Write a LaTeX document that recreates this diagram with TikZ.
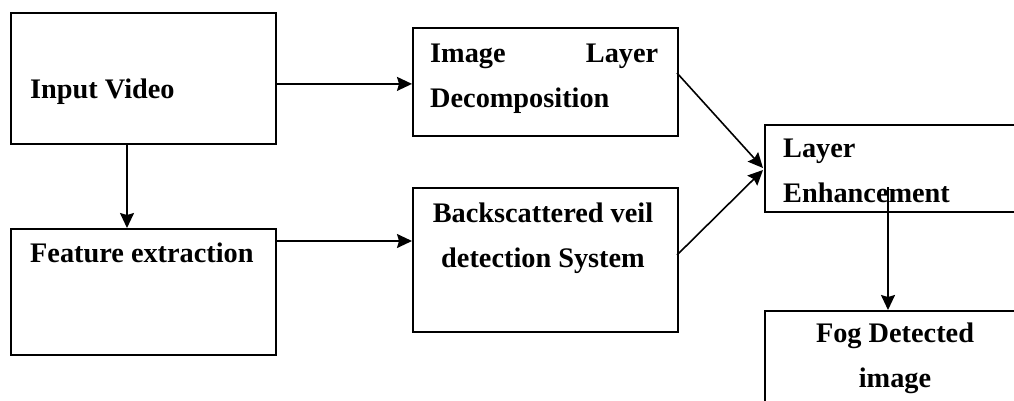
\documentclass[tikz,border=0pt]{standalone}
\usepackage{fontspec}
\setmainfont{Liberation Serif}
\usetikzlibrary{arrows.meta}
\tikzset{
  box/.style={draw, line width=1.8pt, rectangle, inner sep=0pt, anchor=north west},
  txt/.style={inner sep=0pt, font=\fontsize{28.3}{45}\selectfont\bfseries},
  conn/.style={line width=1.6pt, -{Stealth[length=15pt,width=14pt,inset=2pt]}}
}
\begin{document}
\begin{tikzpicture}[x=1pt,y=-1pt]
\useasboundingbox (0,0) rectangle (1014,400);
\clip (0,0) rectangle (1014,400);
% boxes
\node[box, minimum width=265pt, minimum height=131pt] (in) at (10,12) {};
\node[box, minimum width=265pt, minimum height=108pt] (img) at (412,27) {};
\node[box, minimum width=265pt, minimum height=126pt] (fe) at (10,228) {};
\node[box, minimum width=265pt, minimum height=144pt] (bs) at (412,187) {};
\node[box, minimum width=280pt, minimum height=87pt] (le) at (764,124) {};
\node[box, minimum width=260pt, minimum height=120pt] (fog) at (764,310) {};
% texts
\node[txt, anchor=base west] (tin) at (30,98) {Input Video};
\node[txt, anchor=base west, text width=228pt, align=left] (timg) at (430,62) {Image\hfill Layer\\Decomposition};
\node[txt, anchor=base west] (tfe) at (30,262) {Feature extraction};
\node[txt, anchor=base, align=center] (tbs) at (543,267) {Backscattered veil\\detection System};
\node[txt, anchor=base west, align=left] (tle) at (783,202) {Layer\\Enhancement};
\node[txt, anchor=base, align=center] (tfog) at (895,387) {Fog Detected\\image};
% connectors
\coordinate (inr) at ([yshift=-5.5pt]in.east);
\draw[conn] (inr) -- (inr -| img.west);
\coordinate (inb) at (127,143);
\draw[conn] (inb) -- (inb |- fe.north);
\coordinate (fer) at (275,241);
\draw[conn] (fer) -- (fer -| bs.west);
\coordinate (imgr) at (677,73);
\coordinate (lein1) at (763,168);
\draw[conn] (imgr) -- (lein1);
\coordinate (bsr) at (677,255);
\coordinate (lein2) at (763,170);
\draw[conn] (bsr) -- (lein2);
\coordinate (leout) at (888,187);
\draw[conn] (leout) -- (leout |- fog.north);
\end{tikzpicture}
\end{document}
